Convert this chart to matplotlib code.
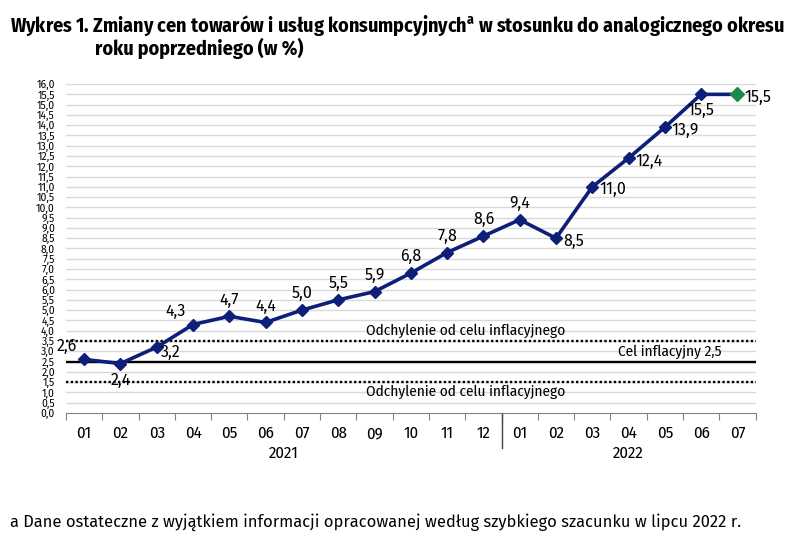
import matplotlib.pyplot as plt
import numpy as np

plt.rcParams['font.family'] = ['Fira Sans Condensed', 'DejaVu Sans']
plt.rcParams['mathtext.fontset'] = 'custom'
plt.rcParams['mathtext.rm'] = 'Fira Sans Condensed'
plt.rcParams['mathtext.bf'] = 'Fira Sans Condensed:bold'

# dane
months = ['01', '02', '03', '04', '05', '06', '07', '08', '09', '10', '11', '12',
          '01', '02', '03', '04', '05', '06', '07']
values = [2.6, 2.4, 3.2, 4.3, 4.7, 4.4, 5.0, 5.5, 5.9, 6.8, 7.8, 8.6,
          9.4, 8.5, 11.0, 12.4, 13.9, 15.5, 15.5]
years = ['2021', '2022']
target = 2.5
band = [1.5, 3.5]

# pozycje etykiet (offset w punktach)
label_pos = ['ul', 'b', 'br', 'ul', 'u', 'u', 'u', 'u', 'u', 'u', 'u', 'u',
             'u', 'r', 'r', 'r', 'r', 'b', 'r']
offsets = {'u': (0, 6, 'center', 'bottom'), 'b': (0, -6, 'center', 'top'),
           'r': (5, -2, 'left', 'center'), 'ul': (-5, 4, 'right', 'bottom'),
           'br': (3, -4, 'left', 'center')}

navy = '#0d1f78'
green = '#1e8a4a'
num_font = ['Fira Sans', 'DejaVu Sans']

fig = plt.figure(figsize=(8, 5.39), dpi=100)
ax = fig.add_axes([0.0825, 0.234, 0.862, 0.610])

x = np.arange(len(values))
ax.set_xlim(-0.5, len(values) - 0.5)
ax.set_ylim(0, 16)

yt = np.arange(0, 16.01, 0.5)
for v in yt[1:]:
    ax.axhline(v, color='#d9d9d9', lw=1, zorder=0)

ax.axhline(band[1], color='black', lw=1.7, ls=(0, (1, 1)), zorder=1)
ax.axhline(band[0], color='black', lw=1.7, ls=(0, (1, 1)), zorder=1)
ax.axhline(target, color='black', lw=1.7, zorder=1)

ax.text(10.5, band[1] + 0.12, 'Odchylenie od celu inflacyjnego', ha='center', va='bottom', fontsize=11)
ax.text(10.5, band[0] - 0.12, 'Odchylenie od celu inflacyjnego', ha='center', va='top', fontsize=11)
ax.text(17.55, target + 0.12, 'Cel inflacyjny 2,5', ha='right', va='bottom', fontsize=11)

ax.plot(x, values, color=navy, lw=2.6, marker='D', ms=6, zorder=3)
ax.plot(x[-1], values[-1], marker='D', ms=7, color=green, zorder=4)

for xi, v, p in zip(x, values, label_pos):
    dx, dy, ha, va = offsets[p]
    ax.annotate(f'{v:.1f}'.replace('.', ','), (xi, v), xytext=(dx, dy),
                textcoords='offset points', ha=ha, va=va, fontsize=11.5, family=num_font)

ax.set_yticks(yt)
ax.set_yticklabels([f'{v:.1f}'.replace('.', ',') for v in yt], fontsize=7.5, family=num_font)
ax.tick_params(axis='y', length=0, pad=8)

ax.set_xticks(np.arange(-0.5, len(values), 1), minor=False)
ax.set_xticklabels([])
ax.tick_params(axis='x', length=5, color='#808080', direction='out')
for xi, m in zip(x, months):
    ax.text(xi, -0.038, m, transform=ax.get_xaxis_transform(), ha='center', va='top', fontsize=12)
ax.text(5.5, -0.1, years[0], transform=ax.get_xaxis_transform(), ha='center', va='top', fontsize=12)
ax.text(15, -0.1, years[1], transform=ax.get_xaxis_transform(), ha='center', va='top', fontsize=12)
ax.plot([11.5, 11.5], [0, -0.107], transform=ax.get_xaxis_transform(), color='#404040', lw=1, clip_on=False)

for s in ['top', 'right', 'left']:
    ax.spines[s].set_visible(False)
ax.spines['bottom'].set_color('#808080')

fig.text(0.012, 0.952, r'Wykres 1. Zmiany cen towarów i usług konsumpcyjnych$^{\mathbf{a}}$ w stosunku do analogicznego okresu',
         fontsize=14.4, fontweight='bold', va='center')
fig.text(0.119, 0.910, 'roku poprzedniego (w %)', fontsize=14.4, fontweight='bold', va='center')
fig.text(0.012, 0.032, 'a Dane ostateczne z wyjątkiem informacji opracowanej według szybkiego szacunku w lipcu 2022 r.',
         fontsize=11.9, va='center', family=num_font)

fig.savefig('out.png', dpi=100)
